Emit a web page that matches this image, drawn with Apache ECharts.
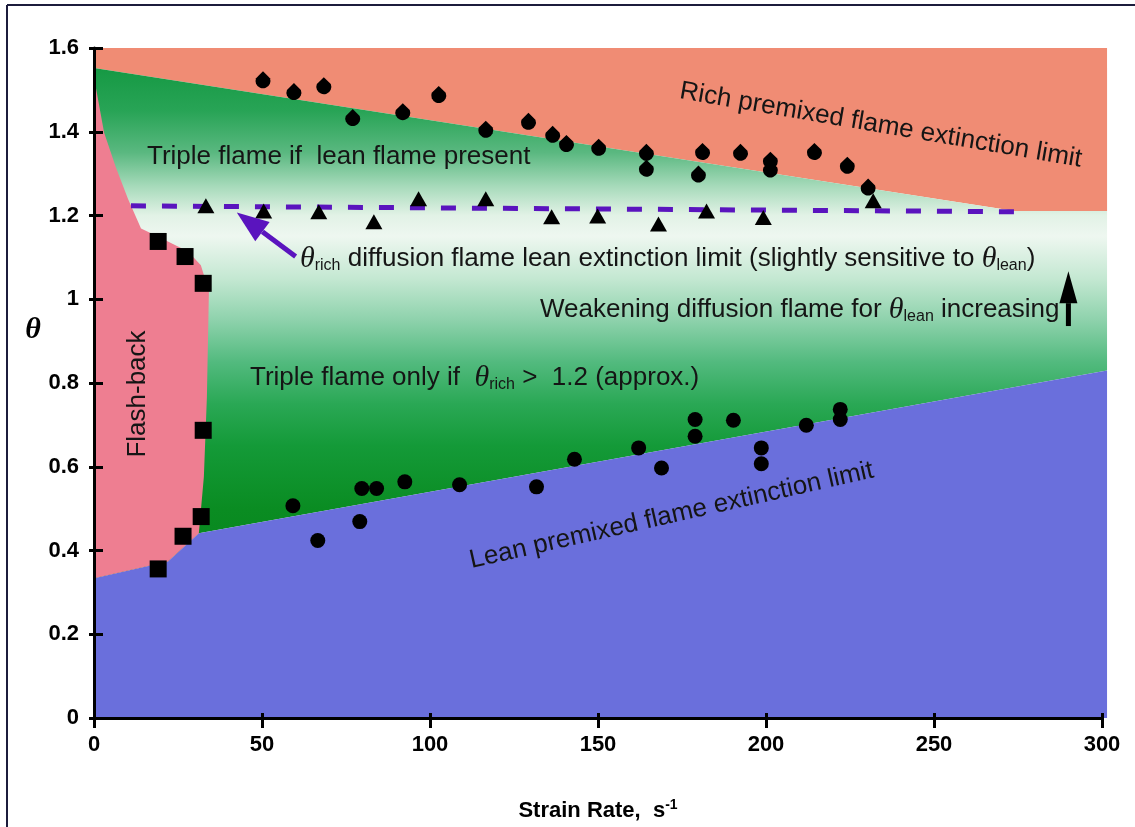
<!DOCTYPE html>
<html><head><meta charset="utf-8">
<script src="https://cdn.jsdelivr.net/npm/echarts@6/dist/echarts.min.js"></script>
<style>html,body{margin:0;padding:0;background:#fff}#c{width:1135px;height:827px}</style>
</head><body><div id="c"></div>
<script>
// ---------- data ----------
const xTickValues = [0, 50, 100, 150, 200, 250, 300];
const yTickValues = [0, 0.2, 0.4, 0.6, 0.8, 1, 1.2, 1.4, 1.6];

// region boundaries (strain rate, theta)
const richLimitBoundary = [[0, 1.552], [274, 1.211], [301.5, 1.211]];
const leanLimitBoundary = [[0, 0.334], [22, 0.374], [31.2, 0.441], [301.5, 0.830]];
const flashbackBoundary = [[0, 1.53], [3, 1.398], [6.5, 1.315], [10.1, 1.24], [14, 1.169], [19, 1.15],
  [28, 1.114], [31.8, 1.081], [34.2, 1.019], [33.6, 0.766], [32.7, 0.576], [31.2, 0.441], [22, 0.374], [0, 0.334]];

// measured points
const richPremixedPoints = [[50.3, 1.524], [59.5, 1.496], [68.4, 1.510], [77.0, 1.434], [91.9, 1.448], [102.6, 1.489],
  [116.6, 1.406], [129.3, 1.425], [136.5, 1.394], [140.6, 1.372], [150.2, 1.363], [164.4, 1.351], [164.4, 1.313],
  [181.1, 1.353], [179.9, 1.299], [192.4, 1.351], [201.3, 1.332], [201.3, 1.311], [214.4, 1.353], [224.2, 1.320], [230.4, 1.268]];
const leanPremixedPoints = [[59.2, 0.507], [66.6, 0.424], [79.1, 0.469], [79.7, 0.548], [84.1, 0.548], [92.5, 0.564],
  [108.8, 0.557], [131.7, 0.552], [143.0, 0.618], [162.1, 0.645], [168.9, 0.597], [178.9, 0.713], [178.9, 0.673],
  [190.3, 0.711], [198.6, 0.645], [198.6, 0.607], [212.0, 0.699], [222.1, 0.737], [222.1, 0.713]];
const diffusionLimitPoints = [[33.3, 1.223], [50.5, 1.211], [66.9, 1.209], [83.3, 1.185], [96.6, 1.240], [116.6, 1.240],
  [136.2, 1.197], [149.9, 1.199], [168.0, 1.180], [182.3, 1.211], [199.2, 1.195], [231.9, 1.235]];
const flashbackPoints = [[19.1, 1.138], [27.1, 1.102], [32.5, 1.038], [32.5, 0.687], [31.9, 0.481], [26.5, 0.434], [19.1, 0.356]];
const diffusionLimitLine = [[11, 1.223], [274, 1.209]];
const purpleArrow = [[60, 1.102, 42.5, 1.207]];
const weakeningArrow = [[290, 0.936, 290, 1.067]];

// ---------- build ----------
const SANS = 'Liberation Sans, Arial, sans-serif';
const SERIF = 'Liberation Serif, Times New Roman, serif';
const chart = echarts.init(document.getElementById('c'), null, {renderer: 'canvas'});

const richRegion = [[0, 1.6], [301.5, 1.6]].concat(richLimitBoundary.slice().reverse());
const greenRegion = richLimitBoundary.concat(leanLimitBoundary.slice().reverse());
const blueRegion = leanLimitBoundary.concat([[301.5, 0], [0, 0]]);

function regionSeries(points, fillFn, z) {
  return {
    type: 'custom', coordinateSystem: 'cartesian2d', silent: true, z: z, clip: false,
    data: [[0, 0]],
    renderItem: function (params, api) {
      return {type: 'polygon', shape: {points: points.map(p => api.coord(p))},
        style: {fill: fillFn(api), stroke: null}};
    }
  };
}
function greenFill(api) {
  const yTop = api.coord([0, 1.6])[1], yBot = api.coord([0, 0])[1];
  return new echarts.graphic.LinearGradient(0, yTop, 0, yBot, [
    {offset: 0, color: '#139640'}, {offset: 0.031, color: '#169944'}, {offset: 0.094, color: '#28A456'},
    {offset: 0.156, color: '#5AB880'}, {offset: 0.206, color: '#A6DABA'}, {offset: 0.25, color: '#E2F2E6'},
    {offset: 0.281, color: '#EEF7F0'}, {offset: 0.344, color: '#C4E8D2'}, {offset: 0.406, color: '#8ED2AC'},
    {offset: 0.469, color: '#52BA7E'}, {offset: 0.531, color: '#2AA855'}, {offset: 0.594, color: '#149A38'},
    {offset: 0.688, color: '#0A8C22'}, {offset: 0.8125, color: '#06841A'}, {offset: 1, color: '#06841A'}
  ], true);
}
function arrowSeries(data, color, headLen, headW, stemW) {
  return {
    type: 'custom', coordinateSystem: 'cartesian2d', silent: true, z: 6, clip: false,
    data: data, encode: {x: [0, 2], y: [1, 3]},
    renderItem: function (params, api) {
      const p1 = api.coord([api.value(0), api.value(1)]);
      const p2 = api.coord([api.value(2), api.value(3)]);
      const dx = p2[0] - p1[0], dy = p2[1] - p1[1], len = Math.hypot(dx, dy);
      const ux = dx / len, uy = dy / len, nx = -uy, ny = ux;
      const bx = p2[0] - ux * headLen, by = p2[1] - uy * headLen;
      return {type: 'group', children: [
        {type: 'line', shape: {x1: p1[0], y1: p1[1], x2: bx, y2: by}, style: {stroke: color, lineWidth: stemW}},
        {type: 'polygon', shape: {points: [[p2[0], p2[1]], [bx + nx * headW / 2, by + ny * headW / 2], [bx - nx * headW / 2, by - ny * headW / 2]]},
          style: {fill: color}}
      ]};
    }
  };
}
function scatter(data, symbol, size) {
  return {type: 'scatter', data: data, symbol: symbol, symbolSize: size, z: 5, silent: true,
    itemStyle: {color: '#000', opacity: 1}};
}

const axisLabelStyle = {fontSize: 22, fontWeight: 'bold', color: '#000', fontFamily: SANS};
const txt = {
  n: {fontSize: 26, fontFamily: SANS, color: '#151515', lineHeight: 30},
  th: {fontSize: 30, fontFamily: SERIF, fontStyle: 'italic', color: '#151515', lineHeight: 30},
  sub: {fontSize: 16, fontFamily: SANS, color: '#151515', lineHeight: 2, verticalAlign: 'bottom'}
};
function label(text, x, y, rot, align) {
  return {type: 'text', x: x, y: y, rotation: (rot || 0) * Math.PI / 180, z: 20, silent: true,
    style: {text: text, rich: txt, fill: '#151515', font: '26px ' + SANS,
      textAlign: align || 'left', textVerticalAlign: 'middle', align: align || 'left', verticalAlign: 'middle'}};
}

const option = {
  animation: false,
  backgroundColor: '#fff',
  grid: {left: 94, right: 33, top: 48, bottom: 104, containLabel: false},
  xAxis: [
    {type: 'value', min: 0, max: 300, interval: 50, position: 'bottom', z: 10,
      axisLine: {lineStyle: {color: '#000', width: 3}},
      axisTick: {length: 10, lineStyle: {color: '#000', width: 3}},
      axisLabel: Object.assign({margin: 16}, axisLabelStyle),
      splitLine: {show: false},
      name: '{a|Strain Rate,  s}{sup|-1}', nameLocation: 'middle', nameGap: 80,
      nameTextStyle: {rich: {
        a: {fontSize: 22, fontWeight: 'bold', fontFamily: SANS, color: '#000', lineHeight: 26},
        sup: {fontSize: 14, fontWeight: 'bold', fontFamily: SANS, color: '#000', lineHeight: 12, verticalAlign: 'top'}
      }}},
    {type: 'value', min: 0, max: 300, interval: 50, position: 'bottom', z: 10,
      axisLine: {show: false}, axisLabel: {show: false}, splitLine: {show: false},
      axisTick: {inside: true, length: 5, lineStyle: {color: '#000', width: 3}}}
  ],
  yAxis: [
    {type: 'value', min: 0, max: 1.6, interval: 0.2, position: 'left', z: 10,
      axisLine: {lineStyle: {color: '#000', width: 3}},
      axisTick: {length: 5, lineStyle: {color: '#000', width: 3}},
      axisLabel: Object.assign({margin: 15, formatter: v => String(+v.toFixed(1))}, axisLabelStyle),
      splitLine: {show: false}},
    {type: 'value', min: 0, max: 1.6, interval: 0.2, position: 'left', z: 10,
      axisLine: {show: false}, axisLabel: {show: false}, splitLine: {show: false},
      axisTick: {inside: true, length: 9, lineStyle: {color: '#000', width: 3}}}
  ],
  series: [
    regionSeries(richRegion, () => '#F08C74', 1),
    regionSeries(greenRegion, greenFill, 1),
    regionSeries(blueRegion, () => '#6A6FDC', 1),
    regionSeries(flashbackBoundary, () => '#EE7E91', 2),
    {type: 'line', data: diffusionLimitLine, symbol: 'none', z: 4, silent: true,
      lineStyle: {color: '#5A14BE', width: 5, type: [15, 16]}},
    arrowSeries(purpleArrow, '#5A14BE', 32, 24, 5),
    arrowSeries(weakeningArrow, '#000', 32, 18, 5),
    scatter(richPremixedPoints, 'path://M8,0 L14.5,6.5 A7,7 0 1 1 1.5,6.5 Z', [15, 17]),
    scatter(leanPremixedPoints, 'circle', 15),
    scatter(diffusionLimitPoints, 'triangle', [17, 15]),
    scatter(flashbackPoints, 'rect', 17)
  ],
  graphic: [
    {type: 'line', shape: {x1: 7, y1: 5, x2: 1135, y2: 5}, style: {stroke: '#1c1c3c', lineWidth: 2}, silent: true},
    {type: 'line', shape: {x1: 7, y1: 5, x2: 7, y2: 827}, style: {stroke: '#1c1c3c', lineWidth: 2}, silent: true},
    {type: 'text', x: 33, y: 330, silent: true,
      style: {text: 'θ', font: 'italic bold 30px ' + SERIF, fill: '#000', textAlign: 'center', textVerticalAlign: 'middle', align: 'center', verticalAlign: 'middle'}},
    label('{n|Rich premixed flame extinction limit}', 680, 91, -9.7),
    label('{n|Triple flame if  lean flame present}', 147, 157, 0),
    label('{th|θ}{sub|rich}{n| diffusion flame lean extinction limit (slightly sensitive to }{th|θ}{sub|lean}{n|)}', 300, 259, 0),
    label('{n|Weakening diffusion flame for }{th|θ}{sub|lean}{n| increasing}', 540, 310, 0),
    label('{n|Triple flame only if  }{th|θ}{sub|rich}{n| >  1.2 (approx.)}', 250, 378, 0),
    label('{n|Flash-back}', 138, 394, 90, 'center'),
    label('{n|Lean premixed flame extinction limit}', 470, 561, 12.7)
  ]
};
chart.setOption(option);
</script></body></html>
